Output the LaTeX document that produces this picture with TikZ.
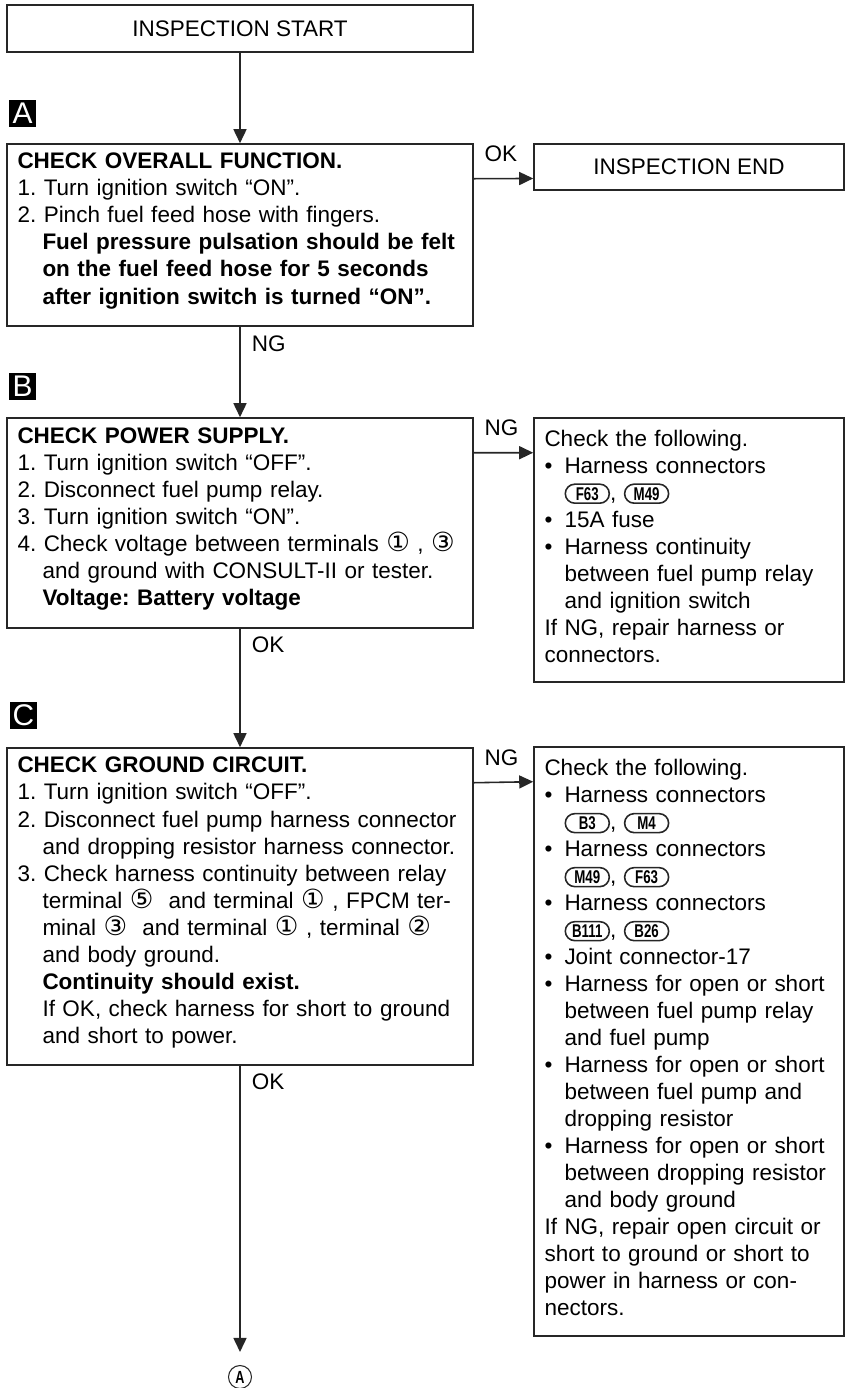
\documentclass[tikz,border=0pt]{standalone}
\usepackage{fontspec}
\setmainfont{Liberation Sans}
\newfontfamily\symfont{DejaVu Sans}
\newfontfamily\connfont[FakeStretch=0.72]{Liberation Sans}
\usetikzlibrary{arrows.meta,positioning,shapes.misc}
\frenchspacing

\newcommand{\stepind}{\hspace*{0.5cm}}
\newcommand{\bul}{\makebox[0.4cm][l]{\textbullet}}
\newcommand{\bulind}{\hspace*{0.4cm}}
\newcommand{\term}[1]{{\symfont\fontsize{15}{15}\selectfont #1}}
\newcommand{\boxpad}{\par\vspace{0.16cm}}
\newcommand{\conn}[1]{\tikz[baseline=(cn-#1.base)]\node[draw=black!85, line width=0.9pt, rounded rectangle, minimum width=0.88cm, minimum height=0.38cm, inner sep=0pt, font=\connfont\bfseries\fontsize{10.5}{10.5}\selectfont] (cn-#1) {#1};}

\begin{document}
\begin{tikzpicture}[
    stepbox/.style={draw=black!85, line width=0.9pt, text width=8.9cm, inner xsep=0.21cm, align=left, font=\fontsize{12.8}{15.37}\selectfont, execute at end node=\boxpad},
    sidebox/.style={stepbox, text width=5.78cm},
    endbox/.style={draw=black!85, line width=0.9pt, align=center, font=\fontsize{12.8}{15.37}\selectfont},
    tagbox/.style={fill=black, text=white, minimum size=0.54cm, inner sep=0pt, font=\fontsize{17}{17}\selectfont},
    lbl/.style={font=\fontsize{12.8}{15.37}\selectfont, inner sep=0pt, anchor=base west},
    flow/.style={line width=0.9pt, draw=black!85, -{Triangle[length=0.28cm,width=0.26cm]}}
  ]
    \useasboundingbox (0,0) rectangle (16.92,-27.76);

    \node[endbox, minimum width=9.32cm, minimum height=0.94cm] (start) at (4.8,-0.57) {INSPECTION START};

    \node[tagbox] (tagA) at (0.45,-2.26) {A};
    \node[stepbox, minimum height=3.64cm] (chkA) at (4.8,-4.70) {\textbf{CHECK OVERALL FUNCTION.}\\
      1. Turn ignition switch “ON”.\\
      2. Pinch fuel feed hose with fingers.\\
      \stepind\textbf{Fuel pressure pulsation should be felt}\\
      \stepind\textbf{on the fuel feed hose for 5 seconds}\\
      \stepind\textbf{after ignition switch is turned “ON”.}};
    \node[endbox, minimum width=6.2cm, minimum height=0.93cm] (endA) at (13.78,-3.34) {INSPECTION END};

    \node[tagbox] (tagB) at (0.45,-7.73) {B};
    \node[stepbox, minimum height=4.2cm] (chkB) at (4.8,-10.46) {\textbf{CHECK POWER SUPPLY.}\\
      1. Turn ignition switch “OFF”.\\
      2. Disconnect fuel pump relay.\\
      3. Turn ignition switch “ON”.\\
      4. Check voltage between terminals \term{①} , \term{③}\\
      \stepind and ground with CONSULT-II or tester.\\
      \stepind\textbf{Voltage: Battery voltage}};
    \node[sidebox, minimum height=5.28cm] (fixB) at (13.78,-11.0) {Check the following.\\
      \bul Harness connectors\\
      \bulind\conn{F63}, \conn{M49}\\
      \bul 15A fuse\\
      \bul Harness continuity\\
      \bulind between fuel pump relay\\
      \bulind and ignition switch\\
      If NG, repair harness or\\
      connectors.};

    \node[tagbox] (tagC) at (0.47,-14.31) {C};
    \node[stepbox, minimum height=6.34cm] (chkC) at (4.8,-18.13) {\textbf{CHECK GROUND CIRCUIT.}\\
      1. Turn ignition switch “OFF”.\\
      2. Disconnect fuel pump harness connector\\
      \stepind and dropping resistor harness connector.\\
      3. Check harness continuity between relay\\
      \stepind terminal \term{⑤}\ \ and terminal \term{①} , FPCM ter-\\
      \stepind minal \term{③}\ \ and terminal \term{①} , terminal \term{②}\\
      \stepind and body ground.\\
      \stepind\textbf{Continuity should exist.}\\
      \stepind If OK, check harness for short to ground\\
      \stepind and short to power.};
    \node[sidebox, minimum height=11.78cm] (fixC) at (13.78,-20.83) {Check the following.\\
      \bul Harness connectors\\
      \bulind\conn{B3}, \conn{M4}\\
      \bul Harness connectors\\
      \bulind\conn{M49}, \conn{F63}\\
      \bul Harness connectors\\
      \bulind\conn{B111}, \conn{B26}\\
      \bul Joint connector-17\\
      \bul Harness for open or short\\
      \bulind between fuel pump relay\\
      \bulind and fuel pump\\
      \bul Harness for open or short\\
      \bulind between fuel pump and\\
      \bulind dropping resistor\\
      \bul Harness for open or short\\
      \bulind between dropping resistor\\
      \bulind and body ground\\
      If NG, repair open circuit or\\
      short to ground or short to\\
      power in harness or con-\\
      nectors.};

    \node[draw=black!85, line width=0.6pt, circle, minimum size=0.46cm, inner sep=0pt, font=\connfont\bfseries\fontsize{10}{10}\selectfont] (contA) at (4.8,-27.54) {A};

    \draw[flow] (start) -- (chkA);
    \draw[flow] ([yshift=-0.71cm]chkA.north east) -- node[lbl, pos=0, xshift=0.2cm, yshift=0.34cm] (okA) {OK} ([yshift=-0.71cm]endA.north west);
    \draw[flow] (chkA) -- node[lbl, pos=0, xshift=0.22cm, yshift=-0.5cm] (ngA) {NG} (chkB);
    \draw[flow] ([yshift=-0.71cm]chkB.north east) -- node[lbl, pos=0, xshift=0.2cm, yshift=0.34cm] (ngB) {NG} ([yshift=-0.71cm]fixB.north west);
    \draw[flow] (chkB) -- node[lbl, pos=0, xshift=0.22cm, yshift=-0.48cm] (okB) {OK} (chkC);
    \draw[flow] ([yshift=-0.71cm]chkC.north east) -- node[lbl, pos=0, xshift=0.2cm, yshift=0.34cm] (ngC) {NG} ([yshift=-0.71cm]fixC.north west);
    \draw[flow] (chkC) -- node[lbl, pos=0, xshift=0.22cm, yshift=-0.48cm] (okC) {OK} ([yshift=0.26cm]contA.north);
  \end{tikzpicture}
\end{document}
